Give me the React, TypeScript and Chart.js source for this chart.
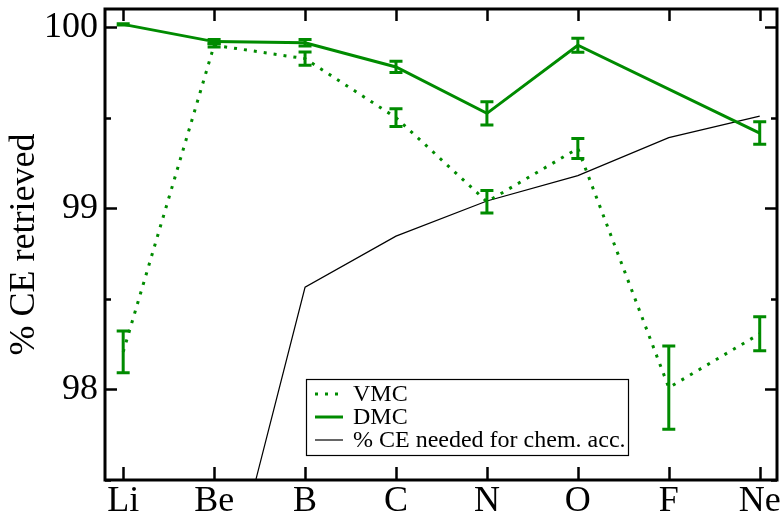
import React, { useEffect, useRef } from "react";
import { Chart, registerables } from "chart.js";

Chart.register(...registerables);

const elements = ["Li", "Be", "B", "C", "N", "O", "F", "Ne"];
const vmcValues = [98.207, 99.9, 99.826, 99.5, 99.036, 99.33, 98.01, 98.307];
const vmcErrors = [0.115, 0.01, 0.036, 0.049, 0.062, 0.055, 0.23, 0.094];
const dmcValues: (number | null)[] = [100.015, 99.92, 99.914, 99.78, 99.524, 99.9, null, 99.415];
const dmcErrors: (number | null)[] = [0.004, 0.012, 0.018, 0.031, 0.064, 0.039, null, 0.062];
const chemAccValues: (number | null)[] = [null, 96.6, 98.564, 98.846, 99.04, 99.18, 99.39, 99.509];
const yTicks = [97.5, 98, 98.5, 99, 99.5, 100];
const yMajorTicks = [98, 99, 100];
const legendLabels = ["VMC", "DMC", "% CE needed for chem. acc."];

const GREEN = "#008b00";
const FONT = "'Liberation Serif', 'Times New Roman', serif";

const toPoints = (vals: (number | null)[]) =>
  vals.map((v, i) => ({ x: i, y: v }));

const frameTicksPlugin = {
  id: "frameTicks",
  afterDraw(chart: any) {
    const { ctx, chartArea: a, scales } = chart;
    const xs = scales.x;
    const ys = scales.y;
    ctx.save();
    ctx.strokeStyle = "#000";
    ctx.lineWidth = 2.5;
    ctx.beginPath();
    elements.forEach((_, i) => {
      const px = Math.round(xs.getPixelForValue(i)) + 0.5;
      ctx.moveTo(px, a.top);
      ctx.lineTo(px, a.top + 12);
      ctx.moveTo(px, a.bottom);
      ctx.lineTo(px, a.bottom - 13);
    });
    yTicks.forEach((v) => {
      const py = Math.round(ys.getPixelForValue(v)) + 0.5;
      const len = yMajorTicks.includes(v) ? 12 : 6;
      ctx.moveTo(a.left, py);
      ctx.lineTo(a.left + len, py);
      ctx.moveTo(a.right, py);
      ctx.lineTo(a.right - len, py);
    });
    ctx.stroke();
    ctx.lineWidth = 3;
    ctx.strokeRect(a.left, a.top, a.right - a.left, a.bottom - a.top);
    ctx.restore();
  },
};

const errorBarsPlugin = {
  id: "errorBars",
  afterDatasetsDraw(chart: any) {
    const { ctx, chartArea: a, scales } = chart;
    const xs = scales.x;
    const ys = scales.y;
    ctx.save();
    ctx.beginPath();
    ctx.rect(a.left, a.top, a.right - a.left, a.bottom - a.top);
    ctx.clip();
    chart.data.datasets.forEach((ds: any) => {
      if (!ds.errors) return;
      ctx.strokeStyle = ds.borderColor;
      ctx.lineWidth = 3;
      ds.errors.forEach((e: number | null, i: number) => {
        const v = ds.values[i];
        if (v == null || e == null) return;
        const px = xs.getPixelForValue(i);
        const y1 = ys.getPixelForValue(v + e);
        const y2 = ys.getPixelForValue(v - e);
        ctx.beginPath();
        ctx.moveTo(px, y1);
        ctx.lineTo(px, y2);
        ctx.moveTo(px - 6.5, y1);
        ctx.lineTo(px + 6.5, y1);
        ctx.moveTo(px - 6.5, y2);
        ctx.lineTo(px + 6.5, y2);
        ctx.stroke();
      });
    });
    ctx.restore();
  },
};

const legendBoxPlugin = {
  id: "legendBox",
  afterDraw(chart: any) {
    const { ctx } = chart;
    const bx = 306, by = 379, bw = 322, bh = 76;
    ctx.save();
    ctx.fillStyle = "#fff";
    ctx.fillRect(bx, by, bw, bh);
    ctx.strokeStyle = "#000";
    ctx.lineWidth = 1.2;
    ctx.strokeRect(bx + 0.5, by + 0.5, bw, bh);
    chart.data.datasets.forEach((ds: any, i: number) => {
      const cy = by + 15 + i * 23;
      ctx.beginPath();
      ctx.strokeStyle = ds.borderColor;
      ctx.lineWidth = ds.borderWidth;
      ctx.setLineDash(ds.borderDash || []);
      ctx.moveTo(315, cy);
      ctx.lineTo(343, cy);
      ctx.stroke();
      ctx.setLineDash([]);
      ctx.fillStyle = "#000";
      ctx.font = `24px ${FONT}`;
      ctx.textBaseline = "middle";
      ctx.textAlign = "left";
      ctx.fillText(legendLabels[i], 353, cy + 1);
    });
    ctx.restore();
  },
};

export default function App() {
  const canvasRef = useRef<HTMLCanvasElement | null>(null);

  useEffect(() => {
    document.body.style.margin = "0";
    const canvas = canvasRef.current;
    if (!canvas) return;
    const chart = new Chart(canvas, {
      type: "line",
      data: {
        datasets: [
          {
            label: legendLabels[0],
            data: toPoints(vmcValues),
            borderColor: GREEN,
            borderWidth: 3,
            borderDash: [3, 7],
            pointRadius: 0,
            fill: false,
            tension: 0,
            values: vmcValues,
            errors: vmcErrors,
          } as any,
          {
            label: legendLabels[1],
            data: toPoints(dmcValues),
            borderColor: GREEN,
            borderWidth: 3,
            pointRadius: 0,
            fill: false,
            spanGaps: true,
            tension: 0,
            values: dmcValues,
            errors: dmcErrors,
          } as any,
          {
            label: legendLabels[2],
            data: toPoints(chemAccValues),
            borderColor: "#000",
            borderWidth: 1.2,
            pointRadius: 0,
            fill: false,
            tension: 0,
          } as any,
        ],
      },
      options: {
        responsive: false,
        animation: false,
        layout: { padding: { left: 0, top: 9, right: 7, bottom: 0 } },
        plugins: {
          legend: { display: false },
          tooltip: { enabled: false },
        },
        scales: {
          x: {
            type: "linear",
            position: "bottom",
            min: -0.2,
            max: 7.19,
            grid: { display: false, drawTicks: false },
            border: { display: false },
            afterBuildTicks: (s: any) => {
              s.ticks = elements.map((_, i) => ({ value: i }));
            },
            afterFit: (s: any) => {
              s.height = 34;
              s.paddingLeft = 0;
              s.paddingRight = 0;
              s.paddingTop = 0;
              s.paddingBottom = 0;
            },
            ticks: {
              autoSkip: false,
              maxRotation: 0,
              padding: 0,
              color: "#000",
              font: { family: FONT, size: 36 },
              callback: (v: any) => elements[Math.round(Number(v))] ?? "",
            },
          },
          y: {
            type: "linear",
            position: "left",
            min: 97.5,
            max: 100.1,
            grid: { display: false, drawTicks: false },
            border: { display: false },
            afterBuildTicks: (s: any) => {
              s.ticks = yTicks.map((v) => ({ value: v }));
            },
            afterFit: (s: any) => {
              s.width = 105;
              s.paddingLeft = 0;
              s.paddingRight = 0;
              s.paddingTop = 0;
              s.paddingBottom = 0;
            },
            title: {
              display: true,
              text: "% CE retrieved",
              color: "#000",
              font: { family: FONT, size: 36 },
              padding: { top: 3, bottom: 0 },
            },
            ticks: {
              padding: 7,
              color: "#000",
              font: { family: FONT, size: 36 },
              callback: (v: any) =>
                yMajorTicks.includes(Number(v)) ? String(v) : "",
            },
          },
        },
      },
      plugins: [errorBarsPlugin, frameTicksPlugin, legendBoxPlugin],
    });
    return () => chart.destroy();
  }, []);

  return (
    <div style={{ width: 784, height: 514 }}>
      <canvas
        ref={canvasRef}
        width={784}
        height={514}
        style={{ display: "block", width: 784, height: 514 }}
      />
    </div>
  );
}
